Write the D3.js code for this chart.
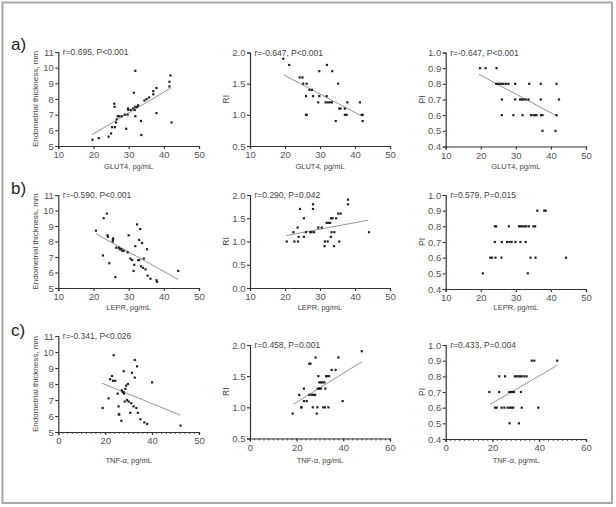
<!DOCTYPE html>
<html>
<head>
<meta charset="utf-8">
<script src="https://cdn.jsdelivr.net/npm/d3@7"></script>
<style>
  body { margin: 0; background: #fff; }
  svg text { font-family: "Liberation Sans", Arial, sans-serif; fill: #444; }
</style>
</head>
<body>
<svg id="fig" width="616" height="507"></svg>
<script>
// ---- data ----
var glutThick = [[19.7,5.4],[21.5,5.5],[24.3,5.6],[25,5.8],[25.3,6.2],[26.1,6.2],[25.9,7.7],[26,7.5],[26.4,6.5],[26.6,6.7],[26.9,6.9],[27.3,6.9],[28,6.9],[29.3,6.1],[29.7,7.0],[29.8,7.4],[29.9,7.3],[30.6,7.3],[28.9,7.0],[31.7,7.3],[31.3,7.4],[31.9,7.5],[31.5,8.4],[31.9,9.8],[31.9,6.9],[32.4,7.5],[32.7,7.6],[33.5,6.6],[33.6,5.7],[34.5,7.9],[35.1,8.0],[35.8,8.1],[37,8.3],[37,8.5],[37.9,8.7],[37.9,7.1],[41.6,8.8],[41.6,9.1],[41.9,9.5],[42.2,6.5]];
var glutRI = [[19.5,1.9],[21.2,1.8],[24.2,1.6],[25,1.6],[25.2,1.5],[26.2,1.5],[26,1.3],[26,1.0],[26.2,1.0],[27,1.4],[27.7,1.4],[28,1.3],[29.5,1.2],[29.8,1.3],[29.8,1.7],[31.9,1.3],[31.6,1.2],[32.2,1.2],[32.8,1.2],[33.4,1.2],[32,1.8],[33.5,1.7],[34.5,0.9],[35.2,1.5],[35.5,1.1],[35.9,1.1],[37.1,1.1],[37.1,1.0],[37.6,1.0],[37.8,1.2],[41.4,1.2],[41.9,1.0],[42.2,1.0],[42.2,0.9]];
var glutPI = [[19.8,0.9],[21.4,0.9],[24.5,0.9],[24.4,0.8],[24.9,0.8],[25.4,0.8],[26,0.8],[26.5,0.8],[27.2,0.8],[27.9,0.8],[29.8,0.8],[33.8,0.8],[37.1,0.8],[41.6,0.8],[26,0.7],[29.8,0.7],[31.2,0.7],[31.7,0.7],[32.2,0.7],[32.8,0.7],[33.6,0.7],[37.1,0.7],[42.3,0.7],[26,0.6],[29.3,0.6],[31.9,0.6],[34.3,0.6],[35,0.6],[35.5,0.6],[35.9,0.6],[37.2,0.6],[37.6,0.6],[41.6,0.6],[37.6,0.5],[41.3,0.5]];
var leprThick = [[20.7,8.7],[22.7,7.1],[22.9,9.5],[23.8,9.8],[24,8.4],[24.1,8.3],[24.5,6.6],[25.5,8.1],[25.5,8.0],[25.6,8.2],[26.2,5.7],[26.5,7.6],[27.2,7.6],[27.5,7.5],[27.9,7.5],[28.2,7.4],[28.6,7.4],[29.7,7.3],[30,8.4],[30.5,6.9],[31,6.8],[31.4,6.1],[31.6,6.5],[31.9,7.7],[32.4,9.1],[32.7,6.8],[33,6.8],[33,8.1],[33.3,8.8],[33.5,6.4],[34.1,6.3],[33.8,7.9],[34.3,6.9],[34.8,6.2],[35.2,7.5],[35.4,5.8],[36.2,5.6],[37.9,5.5],[38.1,5.4],[44.1,6.1]];
var leprRI = [[20.5,1.0],[22.4,1.2],[22.7,1.0],[23.6,1.3],[23.7,1.0],[23.9,1.1],[24.3,1.7],[25.4,1.5],[25.4,1.1],[26,1.2],[27.2,1.2],[27.6,1.2],[28.3,1.2],[28,1.8],[28,1.7],[29.5,1.3],[30.5,1.3],[31.3,0.9],[31.4,1.0],[31.9,1.4],[32.4,1.4],[32.9,1.4],[32.2,1.0],[33.1,1.1],[33.3,1.2],[33.2,1.5],[33.6,1.5],[34.6,1.5],[34.1,1.2],[34,0.9],[35.2,1.6],[35.9,1.6],[35.5,1.0],[38,1.9],[38,1.8],[44,1.2]];
var leprPI = [[36.1,0.9],[38.1,0.9],[38.5,0.9],[24,0.8],[24.4,0.8],[28,0.8],[30.9,0.8],[31.4,0.8],[31.9,0.8],[32.5,0.8],[33,0.8],[33.7,0.8],[35,0.8],[35.5,0.8],[24,0.7],[26,0.7],[27.5,0.7],[28.2,0.7],[28.8,0.7],[29.9,0.7],[31.3,0.7],[32.8,0.7],[22.7,0.6],[23.2,0.6],[24.2,0.6],[25.9,0.6],[34.2,0.6],[35.6,0.6],[44.3,0.6],[20.6,0.5],[33.4,0.5]];
var tnfThick = [[18.9,6.5],[21.4,7.1],[22.1,8.3],[22.9,8.5],[23.3,8.2],[23.6,9.8],[24.3,8.2],[25.3,7.4],[25.7,6.6],[25.8,6.1],[26,6.1],[26.9,5.7],[27.1,7.6],[27.5,7.5],[27.8,7.5],[28,7.4],[27.9,8.8],[28.3,6.9],[28.6,7.7],[28.9,7.9],[29.3,7.0],[29.7,8.0],[30,6.9],[30.7,6.2],[31.1,6.8],[31.4,8.7],[32.1,6.6],[32.6,8.4],[32.6,9.5],[33.3,6.5],[33.6,9.1],[33.9,6.2],[35,5.8],[36.7,5.6],[37.9,5.5],[40,8.1],[52.1,5.4]];
var tnfRI = [[18.3,0.9],[21.1,1.2],[21.9,1.0],[22.1,1.0],[23.1,1.3],[23.1,1.1],[24.3,1.1],[25.4,1.2],[25.4,1.7],[25.9,1.7],[26.4,1.2],[27.1,1.2],[27.9,1.2],[26.9,1.0],[28.1,1.8],[28.6,0.9],[29,1.3],[28.9,1.0],[29.3,1.5],[29.6,1.3],[30,1.3],[30.4,1.3],[29.7,1.4],[30.4,1.4],[31.1,1.4],[31.9,1.4],[31.4,1.0],[32.1,1.0],[33.6,1.0],[32.3,1.3],[32.6,1.5],[33.1,1.5],[33.9,1.5],[35,1.6],[36.7,1.6],[37.9,1.8],[39.7,1.1],[47.9,1.9]];
var tnfPI = [[36.8,0.9],[37.9,0.9],[47.7,0.9],[22.9,0.8],[25.4,0.8],[29.6,0.8],[30.3,0.8],[31.1,0.8],[31.8,0.8],[32.5,0.8],[33.6,0.8],[34.6,0.8],[18.7,0.7],[22.9,0.7],[27.2,0.7],[27.9,0.7],[28.5,0.7],[29.2,0.7],[32.2,0.7],[21.1,0.6],[21.8,0.6],[23.9,0.6],[25.1,0.6],[26.5,0.6],[27.5,0.6],[28.2,0.6],[28.9,0.6],[32.5,0.6],[39.6,0.6],[27.3,0.5],[31.3,0.5]];

// regression line end points, as drawn in the figure
var glutThickFit = [[19.7,5.74],[42,8.7]];
var glutRIFit = [[19.7,1.64],[41.9,0.98]];
var glutPIFit = [[19.5,0.86],[42.1,0.59]];
var leprThickFit = [[20.7,8.5],[44.1,5.55]];
var leprRIFit = [[20.5,1.13],[43.8,1.46]];
var tnfThickFit = [[18.6,8.05],[52.1,6.05]];
var tnfRIFit = [[18.6,1.05],[47.9,1.73]];
var tnfPIFit = [[18.9,0.62],[47.7,0.87]];

var notes = ["r=0.695, P<0.001", "r=-0.647, P<0.001", "r=-0.647, P<0.001",
             "r=-0.590, P<0.001", "r=0.290, P=0.042", "r=0.579, P=0.015",
             "r=-0.341, P<0.026", "r=0.458, P=0.001", "r=0.433, P=0.004"];
var rowLabels = ["a)", "b)", "c)"];
var xTitles = ["GLUT4, pg/mL", "LEPR, pg/mL", "TNF-\u03b1, pg/mL"];
var yTitles = ["Endometrial thickness, mm", "RI", "PI"];

var thickTicks = [5, 6, 7, 8, 9, 10, 11];
var riTicks = [0.5, 1.0, 1.5, 2.0];
var riTicksB = [0.0, 0.5, 1.0, 1.5, 2.0];
var piTicks = [0.4, 0.5, 0.6, 0.7, 0.8, 0.9, 1.0];
var xTicksAB = [10, 20, 30, 40, 50];
var xTicksC = [0, 20, 40, 60];
var xTickLabelsC1 = ["0", "20", "40", "50"];   // as printed in the original
var xTickLabelsC = ["0", "20", "40", "60"];

var svg = d3.select("#fig");

svg.append("rect")
  .attr("x", 2.5).attr("y", 2.5)
  .attr("width", 609.5).attr("height", 500.5)
  .attr("fill", "#fff")
  .attr("stroke", "#a8a8a8")
  .attr("stroke-width", 2);

var colX = [[58.3, 199], [250, 390], [445.7, 586]];

var panels = [
  {r: 0, c: 0, pts: glutThick, fit: glutThickFit, xd: [10, 50], xt: xTicksAB, yd: [5, 11], yt: thickTicks, yr: [146, 52], fmt: "d"},
  {r: 0, c: 1, pts: glutRI, fit: glutRIFit, xd: [10, 50], xt: xTicksAB, yd: [0.5, 2.0], yt: riTicks, yr: [146, 52.5], fmt: ".1f"},
  {r: 0, c: 2, pts: glutPI, fit: glutPIFit, xd: [10, 50], xt: xTicksAB, yd: [0.4, 1.0], yt: piTicks, yr: [146.5, 52.5], fmt: ".1f"},
  {r: 1, c: 0, pts: leprThick, fit: leprThickFit, xd: [10, 50], xt: xTicksAB, yd: [5, 11], yt: thickTicks, yr: [288, 195], fmt: "d"},
  {r: 1, c: 1, pts: leprRI, fit: leprRIFit, xd: [10, 50], xt: xTicksAB, yd: [0, 2.0], yt: riTicksB, yr: [288, 195], fmt: ".1f"},
  {r: 1, c: 2, pts: leprPI, fit: null, xd: [10, 50], xt: xTicksAB, yd: [0.4, 1.0], yt: piTicks, yr: [289, 195], fmt: ".1f"},
  {r: 2, c: 0, pts: tnfThick, fit: tnfThickFit, xd: [0, 60], xt: xTicksC, xl: xTickLabelsC1, yd: [5, 11], yt: thickTicks, yr: [432, 336], fmt: "d"},
  {r: 2, c: 1, pts: tnfRI, fit: tnfRIFit, xd: [0, 60], xt: xTicksC, xl: xTickLabelsC, yd: [0.5, 2.0], yt: riTicks, yr: [438.5, 345], fmt: ".1f"},
  {r: 2, c: 2, pts: tnfPI, fit: tnfPIFit, xd: [0, 60], xt: xTicksC, xl: xTickLabelsC, yd: [0.4, 1.0], yt: piTicks, yr: [439, 345], fmt: ".1f"}
];

// row label baselines / x-axis label baselines
var rowLabelY = [50, 194, 336];
var titleY = [169, 309.5, 463];

rowLabels.forEach(function(t, i) {
  svg.append("text")
    .attr("x", 11).attr("y", rowLabelY[i])
    .attr("font-size", 17)
    .style("fill", "#222")
    .text(t);
});

panels.forEach(function(p, i) {
  var x = d3.scaleLinear().domain(p.xd).range(colX[p.c]);
  var y = d3.scaleLinear().domain(p.yd).range(p.yr);
  var g = svg.append("g");
  var y0 = p.yr[0];
  var x0 = colX[p.c][0];

  // y axis
  var yAxis = d3.axisLeft(y).tickValues(p.yt).tickSize(3).tickPadding(1.5)
    .tickFormat(d3.format(p.fmt));
  var gy = g.append("g").attr("transform", "translate(" + x0 + ",0)").call(yAxis);
  gy.select(".domain").attr("stroke", "#333").attr("stroke-width", 1.2);
  gy.selectAll(".tick line").attr("stroke", "#333").attr("stroke-width", 1.1);
  gy.selectAll(".tick text").attr("font-size", 9.5).attr("font-family", null).style("fill", "#555");

  // minor ticks on the TNF axes
  if (p.r === 2) {
    var minor = d3.range(p.xd[0], p.xd[1] + 0.01, 2);
    g.selectAll("line.minor").data(minor).enter().append("line")
      .attr("class", "minor")
      .attr("x1", function(d) { return x(d); })
      .attr("x2", function(d) { return x(d); })
      .attr("y1", y0).attr("y2", y0 + 2)
      .attr("stroke", "#333").attr("stroke-width", 0.8);
  }

  // x axis
  var xAxis = d3.axisBottom(x).tickValues(p.xt).tickSize(3).tickPadding(2.5);
  if (p.xl) {
    xAxis.tickFormat(function(d, k) { return p.xl[k]; });
  }
  var gx = g.append("g").attr("transform", "translate(0," + y0 + ")").call(xAxis);
  gx.select(".domain").attr("stroke", "#333").attr("stroke-width", 1.2);
  gx.selectAll(".tick line").attr("stroke", "#333").attr("stroke-width", 1.1);
  gx.selectAll(".tick text").attr("font-size", 9.5).attr("font-family", null).style("fill", "#555");

  // axis titles
  var xc = (colX[p.c][0] + colX[p.c][1]) / 2;
  g.append("text")
    .attr("x", xc).attr("y", titleY[p.r])
    .attr("text-anchor", "middle")
    .attr("font-size", 7.5)
    .text(xTitles[p.r]);

  var yc = (p.yr[0] + p.yr[1]) / 2;
  var ytx = p.c === 0 ? 37.5 : x0 - 21;
  g.append("text")
    .attr("transform", "translate(" + ytx + "," + yc + ") rotate(-90)")
    .attr("text-anchor", "middle")
    .attr("font-size", p.c === 0 ? 8 : 8.5)
    .text(yTitles[p.c]);

  // correlation note
  g.append("text")
    .attr("x", x0 + 4.5).attr("y", p.yr[1] + 3)
    .attr("font-size", 8.5)
    .style("fill", "#444")
    .text(notes[i]);

  // fit line
  if (p.fit) {
    g.append("line")
      .attr("x1", x(p.fit[0][0])).attr("y1", y(p.fit[0][1]))
      .attr("x2", x(p.fit[1][0])).attr("y2", y(p.fit[1][1]))
      .attr("stroke", "#777").attr("stroke-width", 0.8);
  }

  // points
  g.selectAll("rect.pt").data(p.pts).enter().append("rect")
    .attr("class", "pt")
    .attr("x", function(d) { return x(d[0]) - 1.1; })
    .attr("y", function(d) { return y(d[1]) - 1.1; })
    .attr("width", 2.2).attr("height", 2.2)
    .attr("fill", "#222");
});
</script>
</body>
</html>
